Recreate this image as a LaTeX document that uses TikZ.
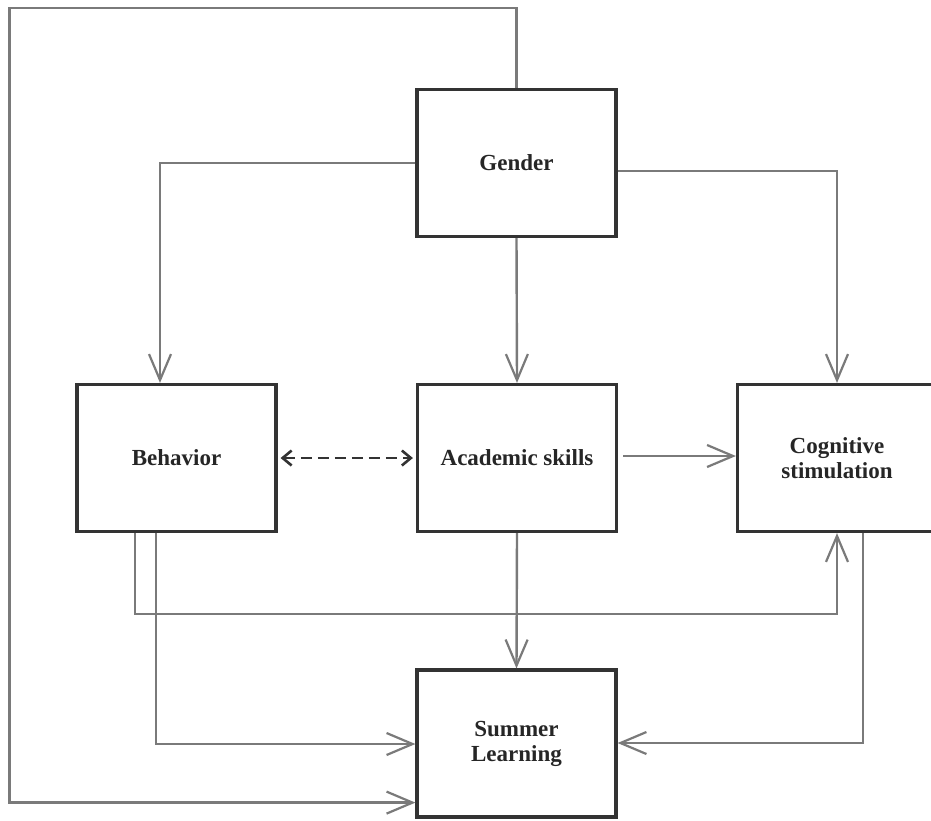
\documentclass[tikz,border=0pt]{standalone}
\usepackage{fontspec}
\setmainfont{Liberation Serif}
\usetikzlibrary{arrows.meta,calc}
\definecolor{boxline}{HTML}{333333}
\definecolor{conn}{HTML}{7A7A7A}
\tikzset{
  boxnode/.style={draw=boxline, line width=3.2pt, rectangle, minimum width=199pt, minimum height=147pt, inner sep=0pt, align=center, font=\fontsize{23}{25}\selectfont\bfseries, text=black!85},
  link/.style={draw=conn, line width=2.4pt, -{Straight Barb[length=26pt,width=22pt,line width=2.2pt]}},
  dlink/.style={draw=black!80, line width=2.6pt, dash pattern=on 11pt off 6pt, {Straight Barb[length=9pt,width=15pt,line width=2.6pt]}-{Straight Barb[length=9pt,width=15pt,line width=2.6pt]}}
}
\begin{document}
\begin{tikzpicture}[x=1pt,y=-1pt]
\useasboundingbox (0,0) rectangle (931,820);
\clip (0,0) rectangle (931,820);
\fill[white] (0,0) rectangle (931,820);
\node[boxnode] (gender) at (516.5,163) {Gender};
\node[boxnode] (behav) at (176.5,458) {Behavior};
\node[boxnode] (acad) at (517,458) {Academic skills};
\node[boxnode] (cog) at (837,458) {Cognitive\\stimulation};
\node[boxnode] (summer) at (516.5,743.5) {Summer\\Learning};
\coordinate (tl) at (9.5,8);
\coordinate (gl) at ($(summer.south west)+(0,-16)$);
% Gender loop to Summer
\draw[link] (gender.north) |- (tl) |- (gl);
% Gender -> Behavior
\draw[link] (gender.west) -| ($(behav.north)+(-16.5,0)$);
% Gender -> Academic
\draw[link] (gender.south) -- (acad.north);
% Gender -> Cognitive
\draw[link] ($(gender.east)+(0,8)$) -| (cog.north);
% Behavior <-> Academic
\draw[dlink] ($(behav.east)+(3,0)$) -- ($(acad.west)+(-3,0)$);
% Academic -> Cognitive
\draw[link] ($(acad.east)+(5,-2)$) -- ($(cog.west)+(0,-2)$);
% Academic -> Summer
\draw[link] (acad.south) -- (summer.north);
% Behavior -> Cognitive
\draw[link] ($(behav.south)+(-41.5,0)$) |- ($(cog.south)+(0,81)$) -- (cog.south);
% Behavior -> Summer
\draw[link] ($(behav.south)+(-20.5,0)$) |- ($(summer.west)+(0,0.5)$);
% Cognitive -> Summer
\draw[link] ($(cog.south)+(26,0)$) |- ($(summer.east)+(0,-0.5)$);
\end{tikzpicture}
\end{document}
